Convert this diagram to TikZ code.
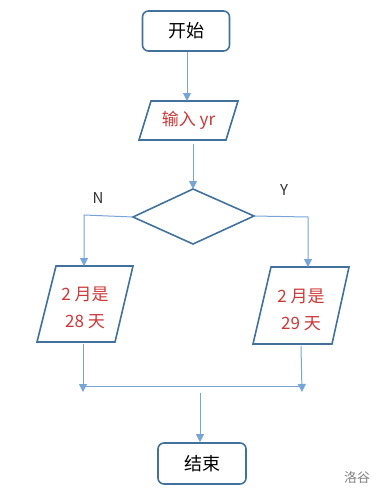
\documentclass[tikz,border=0pt]{standalone}
\usepackage{fontspec}
\setmainfont{Noto Sans CJK SC}
\usetikzlibrary{arrows.meta}
\definecolor{boxc}{RGB}{65,113,156}
\definecolor{linec}{RGB}{120,165,215}
\definecolor{redt}{RGB}{205,55,55}
\definecolor{lblc}{RGB}{50,50,50}
\begin{document}
\begin{tikzpicture}[x=1pt,y=-1pt,
  term/.style={draw=boxc,line width=1.6pt,rounded corners=6pt,minimum width=87pt,minimum height=40pt,font=\fontsize{18}{20}\selectfont,text=black},
  conn/.style={draw=linec,line width=1pt},
  arr/.style={conn,-{Triangle[length=8pt,width=8pt]}},
  outline/.style={draw=boxc,line width=1.6pt,line join=miter},
  redtxt/.style={text=redt,font=\fontsize{17}{27}\selectfont,align=center},
  lbl/.style={text=lblc,font=\fontsize{15}{16}\selectfont}]
\useasboundingbox (0,0) rectangle (384,498);
% terminals
\node[term] (start) at (186,31) {开始};
\node[term,minimum width=88pt,minimum height=41pt] (stop) at (202,463.5) {结束};
% input
\draw[outline] (151,101) -- (238,101) -- (226,140) -- (139,140) -- cycle;
\node[redtxt] (inp) at (188.5,120.5) {输入 yr};
\coordinate (inTop) at (187,101);
\coordinate (inBot) at (193,144);
% decision
\coordinate (dTop) at (193,189);
\coordinate (dL) at (133,217);
\coordinate (dR) at (254,216);
\coordinate (dBot) at (193,244);
\draw[outline] (dTop) -- (dR) -- (dBot) -- (dL) -- cycle;
% outputs
\draw[outline] (56,266) -- (133,266) -- (115,342) -- (37,342) -- cycle;
\draw[outline] (271,267) -- (349,267) -- (332,344) -- (253,344) -- cycle;
\node[redtxt] (o28) at (85,308) {2 月是\\28 天};
\node[redtxt] (o29) at (301,310) {2 月是\\29 天};
\coordinate (lTop) at (84,266);
\coordinate (rTop) at (308,267);
\coordinate (lBot) at (83,344);
\coordinate (rBot) at (301,346);
\coordinate (lEnd) at (83,392);
\coordinate (rEnd) at (302,392);
\coordinate (jL) at (83,386);
\coordinate (jR) at (302,386);
\coordinate (jM) at (200,393);
% connectors
\draw[arr] (start.south -| inTop) -- (inTop);
\draw[arr] (inBot) -- (dTop);
\draw[arr] (dL) -- (84,215) -- (lTop);
\draw[arr] (dR) -- (308,217) -- (rTop);
\draw[arr] (lBot) -- (lEnd);
\draw[arr] (rBot) -- (rEnd);
\draw[conn] (jL) -- (jR);
\draw[arr] (jM) -- (stop.north -| jM);
% labels
\node[lbl] (n) at (98,198) {N};
\node[lbl] (y) at (284,190) {Y};
\node[text=gray,font=\fontsize{13}{14}\selectfont] (wm) at (357,478) {洛谷};
\end{tikzpicture}
\end{document}
